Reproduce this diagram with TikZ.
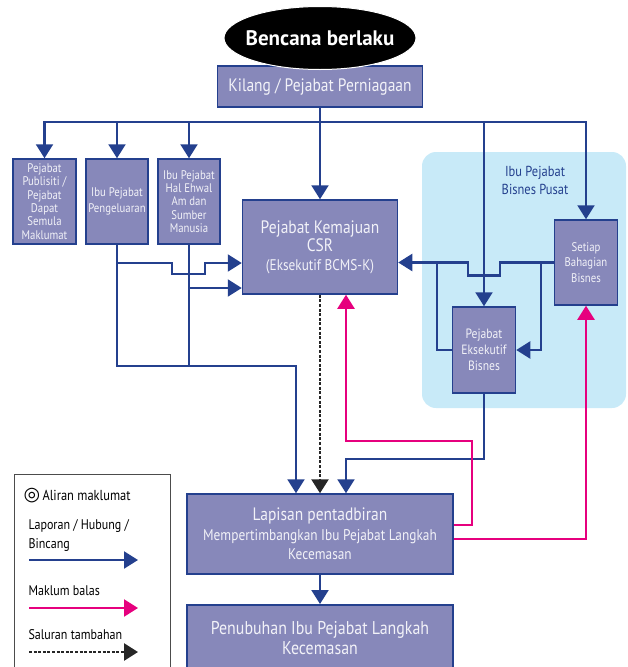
\documentclass[tikz,border=0pt]{standalone}
\usepackage{fontspec}
\setmainfont{PT Sans}[FakeStretch=0.86]
\newfontfamily\titlefont{PT Sans}
\newfontfamily\symfont{DejaVu Sans}
\usetikzlibrary{arrows.meta, shapes.geometric}

\definecolor{boxfill}{HTML}{8788BA}
\definecolor{linkblue}{HTML}{24408E}
\definecolor{fbpink}{HTML}{E6007E}
\definecolor{hqblue}{HTML}{C8EAF8}
\definecolor{boxtext}{HTML}{F2F2F8}

\tikzset{
  office/.style={draw=linkblue, line width=1.5pt, fill=boxfill, text=boxtext,
    align=center, inner sep=1pt},
  flow/.style={draw=linkblue, line width=2.2pt,
    -{Triangle[width=17pt,length=14pt]}},
  link/.style={draw=linkblue, line width=2.2pt},
  feedback/.style={draw=fbpink, line width=2.2pt,
    -{Triangle[width=17pt,length=14pt]}},
  extra/.style={draw=black!85, line width=2.6pt, dash pattern=on 3pt off 1.6pt,
    -{Triangle[width=17pt,length=14pt]}}
}

\begin{document}
\begin{tikzpicture}[x=1pt, y=-1pt]
    \useasboundingbox (0,0) rectangle (627,667);
    \clip (0,0) rectangle (627,667);

    % Ibu Pejabat Bisnes Pusat
    \fill[hqblue, rounded corners=14pt] (422,152) rectangle (626,408);
    \node[text=linkblue, align=center, font=\fontsize{14.5}{18}\selectfont] (hqlabel) at (535,180)
        {Ibu Pejabat\\Bisnes Pusat};

    % offices
    \node[office, minimum width=205pt, minimum height=41pt,
        font=\fontsize{18}{20}\selectfont] (kilang) at (320,86.5) {Kilang / Pejabat Perniagaan};
    \node[ellipse, fill=black, draw=white, line width=1pt, inner sep=0pt, minimum width=192pt,
        minimum height=63pt] (bencana) at (320,38) {};
    \node[text=white, font=\titlefont\bfseries\fontsize{21}{24}\selectfont] (bencanatext) at (bencana) {Bencana berlaku};

    \node[office, minimum width=63pt, minimum height=85pt,
        font=\fontsize{12.5}{13.3}\selectfont] (publisiti) at (44.5,201.5)
        {Pejabat\\Publisiti /\\Pejabat\\Dapat\\Semula\\Maklumat};
    \node[office, minimum width=62pt, minimum height=85pt,
        font=\fontsize{12.5}{16}\selectfont] (pengeluaran) at (117,201.5)
        {Ibu Pejabat\\Pengeluaran};
    \node[office, minimum width=62pt, minimum height=85pt,
        font=\fontsize{12.5}{13.3}\selectfont] (halehwal) at (189,201.5)
        {Ibu Pejabat\\Hal Ehwal\\Am dan\\Sumber\\Manusia};
    \node[office, minimum width=155pt, minimum height=94pt,
        font=\fontsize{18}{18.5}\selectfont] (csr) at (320,247)
        {Pejabat Kemajuan\\CSR\\{\fontsize{15.4}{19}\selectfont (Eksekutif BCMS-K)}};
    \node[office, minimum width=63pt, minimum height=85pt,
        font=\fontsize{12.5}{15.5}\selectfont] (setiap) at (586,262.5)
        {Setiap\\Bahagian\\Bisnes};
    \node[office, minimum width=63pt, minimum height=86pt,
        font=\fontsize{13.5}{16}\selectfont] (eksekutif) at (484,350)
        {Pejabat\\Eksekutif\\Bisnes};
    \node[office, minimum width=266pt, minimum height=80pt,
        font=\fontsize{18}{19.5}\selectfont] (lapisan) at (320,534)
        {Lapisan pentadbiran\\{\fontsize{15.5}{19}\selectfont Mempertimbangkan Ibu Pejabat Langkah}\\{\fontsize{15.5}{18}\selectfont Kecemasan}};
    \node[office, minimum width=266pt, minimum height=92pt, anchor=north] (penubuhan) at (320,604) {};
    \node[text=boxtext, align=center, font=\fontsize{18.5}{19.5}\selectfont] (penubuhantext) at (320,638)
        {Penubuhan Ibu Pejabat Langkah\\Kecemasan};

    % junctions
    \coordinate (bus) at (320,122);
    \coordinate (hopL) at (117,263);
    \coordinate (hopH) at (189,288);
    \coordinate (joinL) at (117,366);
    \coordinate (tapL) at (437,263);
    \coordinate (tapR) at (541,263);
    \coordinate (dropE) at (484,459);
    \coordinate (fbA) at (472,441);

    % reporting lines
    \draw[flow] (kilang) -- (csr);
    \draw[flow] (bus) -| (publisiti);
    \draw[flow] (bus) -| (pengeluaran);
    \draw[flow] (bus) -| (halehwal);
    \draw[flow] (bus) -| (eksekutif);
    \draw[flow] (bus) -| (setiap);
    \draw[flow] (hopL) -- ++(55,0) -- ++(0,11) -- ++(33,0) -- ++(0,-11) -- (hopL -| csr.west);
    \draw[flow] (hopH) -- (hopH -| csr.west);
    \draw[flow] (pengeluaran) -- (joinL) -| ([xshift=-24pt]lapisan.north);
    \draw[link] (halehwal) -- (halehwal |- joinL);
    \draw[flow] (setiap.west) -- ++(-54,0) -- ++(0,13) -- ++(-32,0) -- ++(0,-13) -- (setiap.west -| csr.east);
    \draw[link] (tapL) |- (eksekutif.west);
    \draw[flow] (tapR) |- (eksekutif.east);
    \draw[flow] (eksekutif) -- (dropE) -| ([xshift=26pt]lapisan.north);
    \draw[extra] (csr) -- (lapisan);
    \draw[flow] (lapisan) -- (penubuhan);

    % feedback
    \draw[feedback] ([yshift=9pt]lapisan.east) -| (fbA) -| ([xshift=26pt]csr.south);
    \draw[feedback] ([yshift=-5pt]lapisan.east) -| (setiap);

    % legend
    \draw[draw=black!70, line width=1pt, fill=white] (14,474) rectangle (170,700);
    \node[anchor=west, font=\fontsize{14.5}{16}\selectfont] (lgtitle) at (20,496)
        {{\symfont\fontsize{19}{16}\selectfont ◎}\,Aliran maklumat};
    \node[anchor=west, align=left, font=\fontsize{14}{19}\selectfont] (lgflow) at (25,535)
        {Laporan / Hubung /\\Bincang};
    \node[anchor=west, font=\fontsize{14}{16}\selectfont] (lgfeed) at (25,591) {Maklum balas};
    \node[anchor=west, font=\fontsize{14}{16}\selectfont] (lgextra) at (25,635) {Saluran tambahan};
    \coordinate (lg1a) at (29,560); \coordinate (lg1b) at (138,560);
    \coordinate (lg2a) at (29,608); \coordinate (lg2b) at (138,608);
    \coordinate (lg3a) at (29,652); \coordinate (lg3b) at (138,652);
    \draw[flow] (lg1a) -- (lg1b);
    \draw[feedback] (lg2a) -- (lg2b);
    \draw[extra] (lg3a) -- (lg3b);
\end{tikzpicture}
\end{document}
